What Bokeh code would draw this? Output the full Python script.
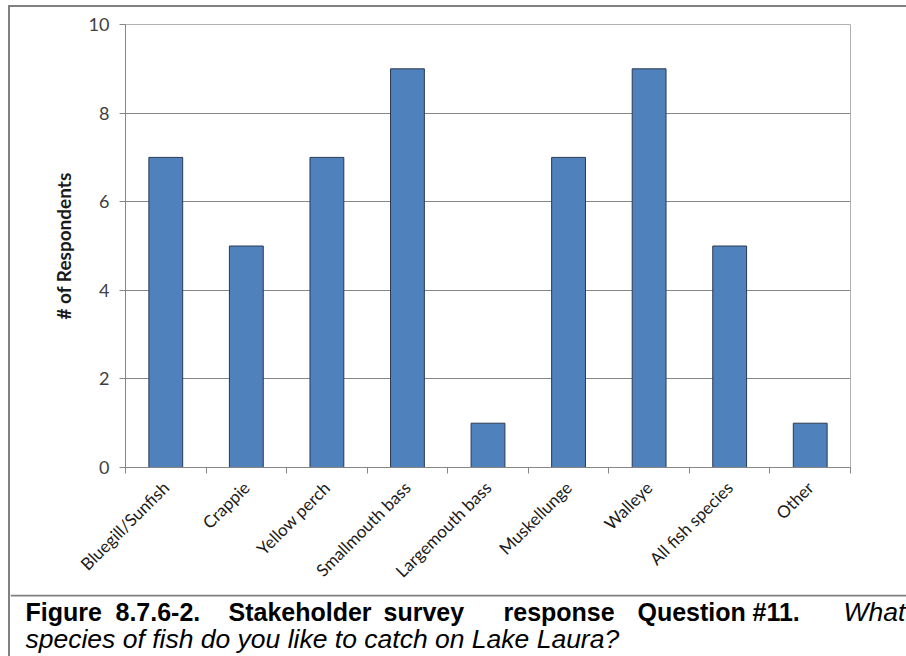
from math import pi

from bokeh.core.properties import value
from bokeh.embed import file_html
from bokeh.layouts import column
from bokeh.models import (ColumnDataSource, FixedTicker, Grid, LinearAxis,
                          Range1d, Span)
from bokeh.plotting import figure
from bokeh.resources import INLINE

# ---- data -------------------------------------------------------------
categories = ["Bluegill/Sunfish", "Crappie", "Yellow perch", "Smallmouth bass",
              "Largemouth bass", "Muskellunge", "Walleye", "All fish species",
              "Other"]
respondents = [7, 5, 7, 9, 1, 7, 9, 5, 1]
y_ticks = [0, 2, 4, 6, 8, 10]
y_label = "# of Respondents"
caption_line1_bold = ["Figure", "8.7.6-2.", "Stakeholder", "survey",
                      "response", "Question", "#11."]
caption_line1_italic = "What"
caption_line2_italic = "species of fish do you like to catch on Lake Laura?"

# positions derived from category order
n = len(categories)
centers = [i + 0.5 for i in range(n)]
edges = list(range(n + 1))

# ---- layout constants ---------------------------------------------------
OX, OY = 10, 7                  # content offset inside the grey frame
W, H = 896, 587
ML, MT = 125 - OX, 24 - OY
MR = W - (850 - OX)
MB = H - (467 - OY)
GRID = "#868686"
FRAME = "#808080"

p = figure(width=W, height=H,
           x_range=Range1d(0, n), y_range=Range1d(0, 10),
           x_axis_type=None, y_axis_type=None,
           output_backend="svg", toolbar_location=None,
           min_border_left=ML, min_border_right=MR,
           min_border_top=MT, min_border_bottom=MB)
p.background_fill_color = "white"
p.border_fill_color = "white"
p.outline_line_color = "#b0b0b0"
p.outline_line_width = 1

yaxis = LinearAxis(ticker=FixedTicker(ticks=y_ticks),
                   axis_line_color=GRID, major_tick_line_color=GRID,
                   major_tick_out=6, major_tick_in=0,
                   minor_tick_line_color=None,
                   major_label_text_font="Lato",
                   major_label_text_font_size="18px",
                   major_label_text_color="#404040",
                   major_label_standoff=10,
                   axis_label=y_label, axis_label_text_font="Lato",
                   axis_label_text_font_style="bold",
                   axis_label_text_font_size="19px",
                   axis_label_text_color="#1a1a1a",
                   axis_label_standoff=11)
p.add_layout(yaxis, "left")

# category names at centres, tick marks (minor ticks) at boundaries
xaxis = LinearAxis(ticker=FixedTicker(ticks=centers, minor_ticks=edges),
                   major_label_overrides={c: name for c, name in zip(centers, categories)},
                   axis_line_color=GRID,
                   major_tick_line_color=None,
                   minor_tick_line_color=GRID,
                   minor_tick_out=6, minor_tick_in=0,
                   major_label_orientation=pi / 4,
                   major_label_text_font="Lato",
                   major_label_text_font_size="17px",
                   major_label_text_color="#1a1a1a",
                   major_label_standoff=11)
p.add_layout(xaxis, "below")

p.add_layout(Grid(dimension=1, ticker=FixedTicker(ticks=y_ticks),
                  grid_line_color=GRID, grid_line_width=1))

src = ColumnDataSource(dict(x=centers, val=respondents))
p.vbar(x="x", top="val", width=0.42, source=src,
       fill_color="#4F81BD", line_color="#2a3a50", line_width=1)

# ---- caption (separate root so its frame is not aligned with the chart) --
CW, CH = W, 656 - OY - H
cap = figure(width=CW, height=CH, x_range=Range1d(0, CW), y_range=Range1d(CH, 0),
             x_axis_type=None, y_axis_type=None, output_backend="svg",
             toolbar_location=None, min_border=0, title=None)
cap.title = None
cap.min_border_left = cap.min_border_right = 0
cap.min_border_top = cap.min_border_bottom = 0
cap.outline_line_color = None
cap.background_fill_color = "white"
cap.border_fill_color = "white"
cap.add_layout(Span(location=1, dimension="width", line_color=FRAME, line_width=2))

word_x = [25, 115, 228, 383, 503, 637, 752]
base1, base2 = 17, 44
cap.text(x=[x - OX for x in word_x], y=[base1] * len(word_x), text=caption_line1_bold,
         text_font=value("Liberation Sans"), text_font_size="25px",
         text_font_style="bold", text_color="black", text_baseline="alphabetic")
cap.text(x=[843 - OX], y=[base1], text=[caption_line1_italic],
         text_font=value("Liberation Sans"), text_font_size="26.5px",
         text_font_style="italic", text_color="black", text_baseline="alphabetic")
cap.text(x=[25 - OX], y=[base2], text=[caption_line2_italic],
         text_font=value("Liberation Sans"), text_font_size="26.5px",
         text_font_style="italic", text_color="black", text_baseline="alphabetic")

chart_box = column(p, styles={"border-left": f"2px solid {FRAME}",
                              "border-top": f"2px solid {FRAME}",
                              "margin-left": "8px", "margin-top": "5px"})
caption_box = column(cap, styles={"border-left": f"2px solid {FRAME}",
                                  "margin-left": "8px"})

open("out.html", "w").write(file_html([chart_box, caption_box], INLINE))
